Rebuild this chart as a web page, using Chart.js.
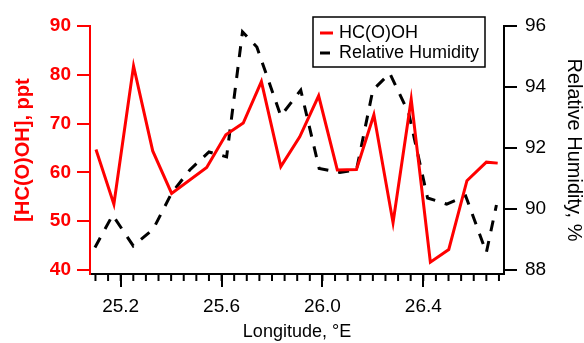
<!DOCTYPE html>
<html lang="en">
  <head>
    <meta charset="UTF-8" />
    <title>HC(O)OH and relative humidity vs longitude</title>
    <script src="https://cdn.jsdelivr.net/npm/chart.js@4"></script>
    <style>
      body { margin: 0; background: #fff; }
      #wrap { width: 584px; height: 343px; }
    </style>
  </head>
  <body>
    <div id="wrap"><canvas id="myChart"></canvas></div>
    <script>
      // HC(O)OH, ppt (left axis)
      const hcoohLon = [25.102, 25.173, 25.251, 25.327, 25.402, 25.541, 25.617, 25.686, 25.758, 25.835, 25.910,
        25.985, 26.059, 26.135, 26.204, 26.280, 26.352, 26.428, 26.501, 26.573, 26.650, 26.695];
      const hcooh = [64.7, 53.5, 81.8, 64.4, 55.7, 61.0, 67.7, 70.1, 78.6, 61.2, 67.3,
        75.7, 60.5, 60.6, 71.8, 49.7, 75.0, 41.6, 44.2, 58.3, 62.1, 61.9];

      // Relative humidity, % (right axis)
      const rhLon = [25.098, 25.168, 25.250, 25.329, 25.402, 25.474, 25.550, 25.620, 25.683, 25.740, 25.835, 25.914,
        25.987, 26.069, 26.135, 26.200, 26.267, 26.342, 26.417, 26.493, 26.568, 26.650, 26.690];
      const rh = [88.74, 89.80, 88.79, 89.34, 90.52, 91.28, 91.87, 91.71, 95.81, 95.31, 93.05, 93.90,
        91.33, 91.20, 91.28, 93.90, 94.45, 93.15, 90.36, 90.16, 90.43, 88.57, 90.13];

      // tick values
      const lonTicks = [25.2, 25.6, 26.0, 26.4];
      const lonMinorStart = 25.1;
      const lonMinorCount = 33; // every 0.05 up to 26.7
      const hcoohTicks = [40, 50, 60, 70, 80, 90];
      const rhTicks = [88, 90, 92, 94, 96];

      const family = "'Liberation Sans', Arial, sans-serif";
      const red = "#ff0000";

      // minor ticks on the x axis and the boxed legend
      const extras = {
        id: "extras",
        afterDraw(chart) {
          const ctx = chart.ctx;
          const xs = chart.scales.x;
          const area = chart.chartArea;
          ctx.save();
          ctx.strokeStyle = "#000";
          ctx.lineWidth = 2;
          ctx.beginPath();
          for (let i = 0; i < lonMinorCount; i++) {
            const px = xs.getPixelForValue(lonMinorStart + i * 0.05);
            ctx.moveTo(px, area.bottom);
            ctx.lineTo(px, area.bottom + 7);
          }
          ctx.stroke();

          // legend
          const w = 172, h = 50;
          const left = area.right - 19 - w;
          const top = area.top - 9;
          ctx.fillStyle = "#fff";
          ctx.fillRect(left, top, w, h);
          ctx.lineWidth = 1.5;
          ctx.strokeStyle = "#000";
          ctx.strokeRect(left, top, w, h);
          ctx.font = "18px " + family;
          ctx.textBaseline = "middle";
          chart.data.datasets.forEach((ds, i) => {
            const y = top + 16 + i * 20;
            // dashed entry shows a single dash
            const len = ds.borderDash ? 10 : 13;
            ctx.strokeStyle = ds.borderColor;
            ctx.lineWidth = 3;
            ctx.beginPath();
            ctx.moveTo(left + 7, y);
            ctx.lineTo(left + 7 + len, y);
            ctx.stroke();
            ctx.fillStyle = "#000";
            ctx.fillText(ds.label, left + 26, y);
          });
          ctx.restore();
        },
      };

      const ctx = document.getElementById("myChart").getContext("2d");
      const myChart = new Chart(ctx, {
        type: "line",
        data: {
          datasets: [
            {
              label: "HC(O)OH",
              data: hcoohLon.map((x, i) => ({ x: x, y: hcooh[i] })),
              borderColor: red,
              borderWidth: 3,
              pointRadius: 0,
              yAxisID: "y",
            },
            {
              label: "Relative Humidity",
              data: rhLon.map((x, i) => ({ x: x, y: rh[i] })),
              borderColor: "#000",
              borderWidth: 3,
              borderDash: [11, 10],
              pointRadius: 0,
              yAxisID: "y1",
            },
          ],
        },
        options: {
          responsive: true,
          maintainAspectRatio: false,
          animation: false,
          layout: { padding: { top: 26 } },
          plugins: { legend: { display: false }, tooltip: { enabled: false } },
          scales: {
            x: {
              type: "linear",
              position: "bottom",
              min: 25.0783,
              max: 26.72,
              afterBuildTicks: (s) => { s.ticks = lonTicks.map((v) => ({ value: v })); },
              afterFit: (s) => { s.height = 69; },
              grid: { drawOnChartArea: false, tickLength: 13, color: "#000", lineWidth: 2 },
              border: { color: "#000", width: 2 },
              ticks: {
                color: "#000",
                autoSkip: false,
                maxRotation: 0,
                padding: 8,
                font: { family: family, size: 19 },
                callback: (v) => v.toFixed(1),
              },
              title: {
                display: true,
                text: "Longitude, °E",
                color: "#000",
                padding: 0,
                font: { family: family, size: 18 },
              },
            },
            y: {
              position: "left",
              min: 39.18,
              max: 90,
              afterBuildTicks: (s) => { s.ticks = hcoohTicks.map((v) => ({ value: v })); },
              afterFit: (s) => { s.width = 90; },
              grid: { drawOnChartArea: false, tickLength: 13, color: red, lineWidth: 2 },
              border: { color: red, width: 2 },
              ticks: {
                color: red,
                padding: 6,
                font: { family: family, size: 19, weight: "bold" },
              },
              title: {
                display: true,
                text: "[HC(O)OH], ppt",
                color: red,
                padding: { top: 11 },
                font: { family: family, size: 20, weight: "bold" },
              },
            },
            y1: {
              position: "right",
              min: 87.869,
              max: 96,
              afterBuildTicks: (s) => { s.ticks = rhTicks.map((v) => ({ value: v })); },
              afterFit: (s) => { s.width = 80; },
              grid: { drawOnChartArea: false, tickLength: 13, color: "#000", lineWidth: 2 },
              border: { color: "#000", width: 2 },
              ticks: {
                color: "#000",
                padding: 8,
                font: { family: family, size: 19 },
              },
              title: {
                display: true,
                text: "Relative Humidity, %",
                color: "#000",
                padding: 0,
                font: { family: family, size: 20, lineHeight: 1 },
              },
            },
          },
        },
        plugins: [extras],
      });
    </script>
  </body>
</html>
